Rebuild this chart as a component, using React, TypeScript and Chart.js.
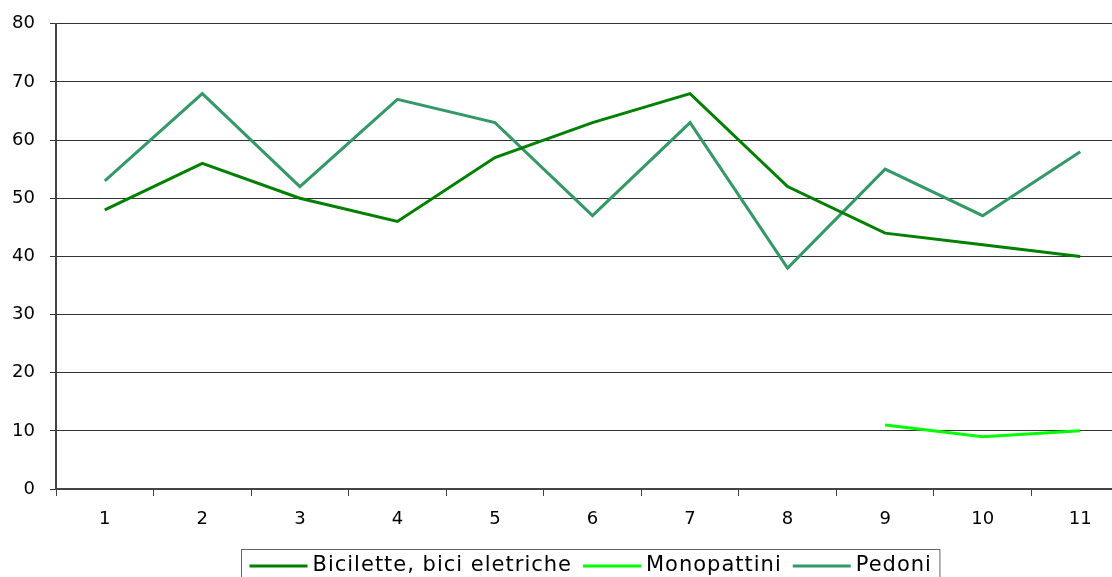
import React, { useEffect, useRef } from "react";
import { Chart, registerables } from "chart.js";

Chart.register(...registerables);

const categories = ["1", "2", "3", "4", "5", "6", "7", "8", "9", "10", "11"];
const biciletteValues = [48, 56, 50, 46, 57, 63, 68, 52, 44, 42, 40];
const monopattiniValues = [null, null, null, null, null, null, null, null, 11, 9, 10];
const pedoniValues = [53, 68, 52, 67, 63, 47, 63, 38, 55, 47, 58];
const seriesLabels = ["Bicilette, bici eletriche", "Monopattini", "Pedoni"];
const yTicks = [0, 10, 20, 30, 40, 50, 60, 70, 80];

const FONT = '"DejaVu Sans", Verdana, sans-serif';
const SHIFT = 2;

const boxLegend = {
  id: "boxLegend",
  afterDraw(chart: any) {
    const ctx = chart.ctx;
    ctx.save();
    ctx.font = `21px ${FONT}`;
    try {
      (ctx as any).letterSpacing = "1px";
    } catch (e) {}
    const lineW = 58;
    const gap1 = 5;
    const gap2 = 11;
    const items = chart.data.datasets.map((d: any) => ({
      label: d.label,
      color: d.borderColor,
      w: ctx.measureText(d.label).width,
    }));
    let total = 0;
    items.forEach((it: any, i: number) => {
      total += lineW + gap1 + it.w + (i < items.length - 1 ? gap2 : 0);
    });
    const pad = 8;
    const boxW = total + pad * 2;
    const cx = 590.5;
    const boxL = Math.round(cx - boxW / 2) + 0.5;
    const boxT = 549.5 + SHIFT;
    ctx.strokeStyle = "#666";
    ctx.lineWidth = 1;
    ctx.strokeRect(boxL, boxT, boxW, 60);
    let x = boxL + pad;
    const y = 566 + SHIFT;
    ctx.textBaseline = "middle";
    ctx.textAlign = "left";
    items.forEach((it: any) => {
      ctx.strokeStyle = it.color;
      ctx.lineWidth = 3;
      ctx.beginPath();
      ctx.moveTo(x, y);
      ctx.lineTo(x + lineW, y);
      ctx.stroke();
      x += lineW + gap1;
      ctx.fillStyle = "#000";
      ctx.fillText(it.label, x, y);
      x += it.w + gap2;
    });
    ctx.restore();
  },
};

export default function App() {
  const ref = useRef<HTMLCanvasElement | null>(null);
  useEffect(() => {
    if (!ref.current) return;
    const chart = new Chart(ref.current, {
      type: "line",
      data: {
        labels: categories,
        datasets: [
          {
            label: seriesLabels[0],
            data: biciletteValues,
            borderColor: "#008000",
            backgroundColor: "#008000",
            borderWidth: 3,
            pointRadius: 0,
            tension: 0,
          },
          {
            label: seriesLabels[1],
            data: monopattiniValues,
            borderColor: "#00ff00",
            backgroundColor: "#00ff00",
            borderWidth: 3,
            pointRadius: 0,
            tension: 0,
          },
          {
            label: seriesLabels[2],
            data: pedoniValues,
            borderColor: "#339966",
            backgroundColor: "#339966",
            borderWidth: 3,
            pointRadius: 0,
            tension: 0,
          },
        ],
      },
      options: {
        animation: false,
        responsive: false,
        maintainAspectRatio: false,
        layout: { padding: { top: 21, left: 0, right: 1, bottom: 0 } },
        plugins: {
          legend: { display: false },
          tooltip: { enabled: false },
        },
        scales: {
          x: {
            type: "category",
            offset: true,
            grid: {
              offset: true,
              drawOnChartArea: false,
              drawTicks: true,
              tickLength: 7,
              color: "#444",
              lineWidth: 1,
            },
            border: { display: true, color: "#444", width: 2 },
            ticks: {
              color: "#000",
              font: { family: FONT, size: 18 },
              padding: 13,
              maxRotation: 0,
            },
            afterFit: (s: any) => {
              s.height = 88;
            },
          },
          y: {
            min: 0,
            max: 80,
            afterBuildTicks: (s: any) => {
              s.ticks = yTicks.map((v) => ({ value: v }));
            },
            grid: {
              color: "#333",
              lineWidth: 1,
              tickLength: 6,
              drawTicks: true,
            },
            border: { display: true, color: "#444", width: 2 },
            ticks: {
              color: "#000",
              font: { family: FONT, size: 18 },
              padding: 15,
            },
            afterFit: (s: any) => {
              s.width = 56;
            },
          },
        },
      },
      plugins: [boxLegend],
    });
    return () => chart.destroy();
  }, []);
  return (
    <div
      style={{
        position: "fixed",
        left: 0,
        top: 0,
        width: 1112,
        height: 577,
        overflow: "hidden",
        background: "#fff",
      }}
    >
      <canvas
        ref={ref}
        width={1130}
        height={579}
        style={{ width: 1130, height: 579, display: "block", marginTop: -SHIFT }}
      />
    </div>
  );
}
